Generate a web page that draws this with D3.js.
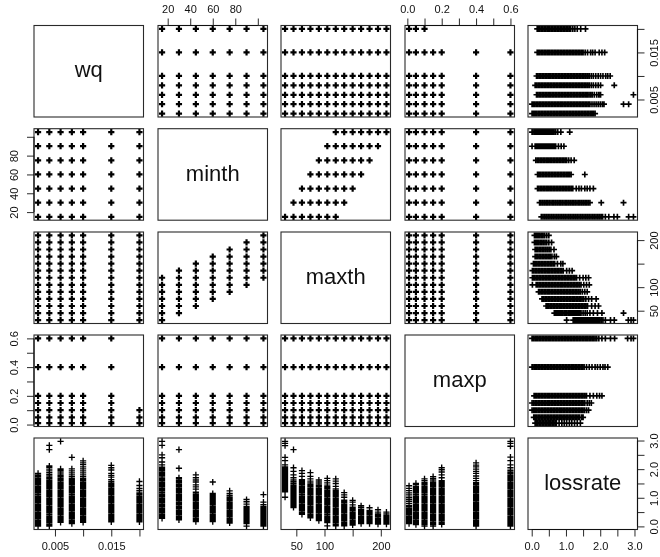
<!DOCTYPE html>
<html>
<head>
<meta charset="utf-8">
<script src="https://cdn.jsdelivr.net/npm/d3@7"></script>
<style>
html,body{margin:0;padding:0;background:#fff;overflow:hidden}
svg{display:block;filter:blur(0.35px)}
text{font-family:"Liberation Sans",Arial,sans-serif;fill:#111}
</style>
</head>
<body>
<script>
const variableNames=["wq","minth","maxth","maxp","lossrate"];
const wqValues=[.002,.004,.006,.008,.01,.015,.02];
const minthValues=[15,30,45,60,75,90,105];
const maxthValues=[30,45,60,75,90,105,120,135,150,165,180,195,210];
const maxpValues=[.01,.05,.1,.15,.2,.4,.6];
const maxpValuesAtTopWq=[.01,.05,.1];
const maxthGapSteps=[15,30,45,60,75,90,105];

const wqTicks=[.005,.01,.015,.02], wqLabels=[.005,.015];
const minthTicks=[20,40,60,80,100], minthLabels=[20,40,60,80];
const maxthTicks=[50,100,150,200], maxthLabels=[50,100,200];
const maxpTicks=[0,.1,.2,.3,.4,.5,.6], maxpLabels=[0,.2,.4,.6];
const lossTicks=[0,.5,1,1.5,2,2.5,3], lossLabels=[0,1,2,3];

const lossByWq=[
[.01,.03,.06,.1,.14,.19,.23,.28,.32,.37,.41,.46,.5,.55,.59,.64,.68,.73,.77,.82,.86,.91,.95,1,1.04,1.09,1.13,1.18,1.22,1.27,1.31,1.36,1.4,1.45,1.49,1.54,1.58,1.63,1.67,1.72,1.76,1.8,1.85],
[.01,.04,.08,.13,.17,.22,.26,.31,.35,.4,.44,.49,.53,.58,.62,.67,.71,.76,.8,.85,.89,.94,.98,1.03,1.07,1.12,1.16,1.21,1.25,1.3,1.34,1.39,1.43,1.48,1.52,1.57,1.61,1.66,1.7,1.76,1.82,1.88,1.94,2,2.06,2.11,2.68,2.83],
[.14,.18,.23,.27,.32,.36,.41,.45,.5,.54,.59,.63,.68,.72,.77,.81,.86,.9,.95,.99,1.04,1.08,1.13,1.17,1.22,1.26,1.31,1.35,1.4,1.44,1.49,1.53,1.58,1.62,1.67,1.72,1.77,1.83,1.9,1.96,2.01,2.97],
[.1,.14,.19,.23,.28,.32,.37,.41,.46,.5,.55,.59,.64,.68,.73,.77,.82,.86,.91,.95,1,1.04,1.09,1.13,1.18,1.22,1.27,1.31,1.36,1.4,1.45,1.49,1.54,1.58,1.63,1.68,1.74,1.8,1.87,1.94,2.01,2.41],
[.14,.18,.23,.27,.32,.36,.41,.45,.5,.54,.59,.63,.68,.72,.77,.81,.86,.9,.95,.99,1.04,1.08,1.13,1.17,1.22,1.26,1.31,1.35,1.4,1.44,1.49,1.53,1.58,1.63,1.68,1.74,1.8,1.87,1.94,2.01,2.08,2.16,2.22,2.29],
[.16,.2,.24,.29,.33,.38,.42,.47,.51,.56,.6,.65,.69,.74,.78,.83,.87,.92,.96,1.01,1.05,1.1,1.14,1.19,1.23,1.28,1.32,1.37,1.41,1.46,1.5,1.56,1.63,1.72,1.78,1.85,1.97,2.05,2.13],
[.16,.2,.24,.29,.33,.38,.42,.47,.51,.56,.6,.65,.69,.74,.78,.83,.87,.92,.96,1.01,1.05,1.1,1.14,1.2,1.26,1.33,1.43,1.57]
];
const lossByMinth=[
[.28,.33,.38,.43,.48,.53,.58,.63,.68,.73,.78,.83,.88,.93,.98,1.03,1.08,1.13,1.18,1.23,1.28,1.33,1.38,1.43,1.48,1.53,1.58,1.63,1.68,1.73,1.78,1.83,1.88,1.93,1.98,2.03,2.07,2.15,2.25,2.4,2.5,2.83,2.97],
[.23,.27,.32,.37,.42,.46,.51,.56,.61,.65,.7,.75,.8,.84,.89,.94,.99,1.03,1.08,1.13,1.18,1.22,1.27,1.32,1.37,1.41,1.46,1.51,1.56,1.6,1.65,1.7,2.03,2.68],
[.17,.21,.26,.3,.35,.39,.44,.48,.53,.57,.62,.66,.71,.75,.8,.84,.89,.93,.98,1.02,1.07,1.11,1.16,1.2,1.3,1.38,1.45,1.55,1.62,1.7,1.8],
[.17,.21,.25,.3,.34,.39,.43,.48,.52,.57,.61,.66,.7,.75,.79,.84,.88,.93,.97,1.02,1.06,1.1,1.15,1.55],
[.12,.17,.21,.26,.3,.35,.39,.44,.48,.53,.57,.62,.66,.71,.75,.8,.84,.89,.93,.98,1.02,1.08,1.15,1.24],
[.01,.1,.14,.18,.22,.26,.3,.34,.38,.42,.46,.5,.54,.58,.62,.66,.7,.78,.86,.94],
[.01,.04,.09,.13,.17,.21,.25,.29,.33,.37,.41,.45,.49,.53,.57,.61,.65,.7,.76,.85,1.11]
];
const lossByMaxth=[
[1.02,1.21,1.25,1.29,1.33,1.37,1.4,1.44,1.48,1.51,1.55,1.58,1.62,1.65,1.69,1.72,1.75,1.79,1.83,1.86,1.9,1.94,1.98,2.03,2.08,2.15,2.3,2.41,2.82,2.9,2.97],
[.66,.7,.74,.78,.82,.86,.9,.95,.99,1.03,1.08,1.12,1.16,1.2,1.24,1.28,1.32,1.36,1.4,1.44,1.5,1.56,1.62,1.7,1.8,1.92,2.05,2.68],
[.42,.46,.5,.55,.59,.64,.68,.73,.77,.82,.86,.91,.95,1,1.04,1.09,1.13,1.18,1.22,1.27,1.31,1.36,1.4,1.45,1.49,1.54,1.58,1.63,1.75,1.85,1.95],
[.3,.34,.39,.43,.48,.52,.57,.61,.66,.7,.75,.79,.84,.88,.93,.97,1.02,1.06,1.11,1.15,1.2,1.24,1.29,1.33,1.38,1.42,1.47,1.52,1.58,1.66,1.75,1.88],
[.2,.24,.29,.33,.38,.42,.47,.51,.56,.6,.65,.69,.74,.78,.83,.87,.92,.96,1.01,1.05,1.1,1.14,1.19,1.23,1.28,1.32,1.37,1.42,1.48,1.55,1.62],
[.02,.13,.17,.22,.26,.31,.35,.4,.44,.49,.53,.58,.62,.67,.71,.76,.8,.85,.89,.94,.98,1.03,1.07,1.12,1.16,1.21,1.25,1.3,1.34,1.39,1.44,1.52,1.6,1.68],
[.02,.05,.09,.14,.18,.23,.27,.32,.36,.41,.45,.5,.54,.59,.63,.68,.72,.77,.81,.86,.9,.95,.99,1.04,1.08,1.13,1.17,1.22,1.26,1.31,1.4,1.5,1.58,1.66],
[.02,.06,.11,.15,.2,.24,.29,.33,.38,.42,.47,.51,.56,.6,.65,.69,.74,.78,.83,.87,.92,1.02,1.1,1.18],
[.05,.09,.13,.18,.22,.27,.31,.36,.4,.45,.49,.54,.58,.63,.67,.75,.85,.91],
[.1,.14,.18,.23,.27,.32,.36,.41,.45,.5,.54,.59,.66,.72],
[.1,.14,.18,.23,.27,.32,.36,.41,.46,.51,.56,.65],
[.08,.12,.16,.2,.25,.29,.34,.39,.44,.5,.58],
[.08,.12,.16,.2,.24,.29,.33,.38,.44,.5]
];
const lossByMaxp=[
[.1,.14,.18,.23,.27,.32,.36,.41,.45,.5,.54,.59,.63,.68,.72,.8,.88,.95,1.02,1.1,1.17,1.25,1.33,1.42],
[.06,.1,.14,.19,.23,.28,.32,.37,.41,.46,.5,.55,.59,.64,.68,.73,.77,.82,.86,.91,.95,1,1.04,1.09,1.13,1.18,1.22,1.27,1.31,1.36,1.4,1.46,1.5],
[.01,.06,.1,.14,.19,.23,.28,.32,.37,.41,.46,.5,.55,.59,.64,.68,.73,.77,.82,.86,.91,.95,1,1.04,1.09,1.13,1.18,1.22,1.27,1.31,1.36,1.4,1.45,1.49,1.54,1.6,1.66],
[.01,.06,.11,.15,.2,.24,.29,.33,.38,.42,.47,.51,.56,.6,.65,.69,.74,.78,.83,.87,.92,.96,1.01,1.05,1.1,1.14,1.19,1.23,1.28,1.32,1.37,1.41,1.46,1.5,1.55,1.62,1.68,1.74],
[.07,.11,.15,.2,.24,.29,.33,.38,.42,.47,.51,.56,.6,.65,.69,.74,.78,.83,.87,.92,.96,1.01,1.05,1.1,1.14,1.19,1.23,1.28,1.32,1.37,1.41,1.46,1.5,1.55,1.6,1.7,1.8,1.9,1.98,2.05],
[.01,.04,.09,.13,.18,.22,.27,.31,.36,.4,.45,.49,.54,.58,.63,.67,.72,.76,.81,.85,.9,.94,.99,1.03,1.08,1.12,1.17,1.21,1.26,1.3,1.35,1.39,1.44,1.48,1.53,1.6,1.68,1.76,1.85,1.92,2,2.08,2.14,2.22],
[.01,.05,.1,.14,.18,.23,.27,.32,.36,.41,.45,.5,.54,.59,.63,.68,.72,.77,.81,.86,.9,.95,.99,1.04,1.08,1.13,1.17,1.22,1.26,1.31,1.35,1.4,1.44,1.49,1.53,1.58,1.62,1.67,1.71,1.76,1.8,1.85,1.9,1.96,2.05,2.15,2.3,2.42,2.8,2.9,2.97]
];

const W=660,H=557;
const colLeft=[34,158,281,405,528], rowTop=[25.5,128.7,232,335,438];
const panelW=109.5, panelH=91.5;

const svg=d3.select("body").append("svg").attr("width",W).attr("height",H);
svg.append("rect").attr("width",W).attr("height",H).attr("fill","#fff");

function padded(values){
  const [a,b]=d3.extent(values), p=(b-a)*.04;
  return [a-p,b+p];
}
const lossAll=[lossByWq,lossByMinth,lossByMaxth,lossByMaxp].flat(2);
const domains=[padded(wqValues),padded(minthValues),padded(maxthValues),padded(maxpValues),padded(lossAll)];
const xScale=domains.map((d,i)=>d3.scaleLinear().domain(d).range([colLeft[i],colLeft[i]+panelW]));
const yScale=domains.map((d,i)=>d3.scaleLinear().domain(d).range([rowTop[i]+panelH,rowTop[i]]));

const factorValues=[wqValues,minthValues,maxthValues,maxpValues];
const lossByFactor=[lossByWq,lossByMinth,lossByMaxth,lossByMaxp];

function designPairs(a,b){
  const pairs=d3.cross(factorValues[a],factorValues[b]);
  return pairs.filter(p=>{
    const o={}; o[a]=p[0]; o[b]=p[1];
    if(o[0]!==undefined&&o[3]!==undefined&&o[0]===.02) return maxpValuesAtTopWq.includes(o[3]);
    if(o[1]!==undefined&&o[2]!==undefined) return maxthGapSteps.includes(o[2]-o[1]);
    return true;
  });
}
function lossPairs(f){
  return lossByFactor[f].flatMap((vals,i)=>vals.map(v=>[factorValues[f][i],v]));
}
function plus(g,pts,x,y,r,sw,color){
  const path=d3.path();
  pts.forEach(([px,py])=>{
    const cx=x(px),cy=y(py);
    path.moveTo(cx-r,cy);path.lineTo(cx+r,cy);
    path.moveTo(cx,cy-r);path.lineTo(cx,cy+r);
  });
  g.append("path").attr("d",path.toString()).attr("fill","none").attr("stroke",color).attr("stroke-width",sw);
}

svg.append("defs").selectAll("clipPath").data(d3.cross(d3.range(5),d3.range(5))).join("clipPath")
  .attr("id",d=>`c${d[0]}${d[1]}`).append("rect")
  .attr("x",d=>colLeft[d[1]]-1).attr("y",d=>rowTop[d[0]]-1)
  .attr("width",panelW+2).attr("height",panelH+2);

for(let r=0;r<5;r++){
  for(let c=0;c<5;c++){
    const g=svg.append("g");
    const mark=g.append("g").attr("clip-path",`url(#c${r}${c})`);
    if(r===c){
      g.append("text").attr("x",colLeft[c]+panelW/2).attr("y",rowTop[r]+panelH/2)
       .attr("dy","0.28em").attr("text-anchor","middle").attr("font-size",22).attr("fill","#111").text(variableNames[r]);
    }else if(r<4&&c<4){
      plus(mark,designPairs(c,r),xScale[c],yScale[r],3.1,2.2,"#000");
    }else if(r===4){
      plus(mark,lossPairs(c),xScale[c],yScale[4],3.1,1.35,"#000");
    }else{
      plus(mark,lossPairs(r).map(p=>[p[1],p[0]]),xScale[4],yScale[r],3.0,1.65,"#000");
    }
    g.append("rect").attr("x",colLeft[c]).attr("y",rowTop[r]).attr("width",panelW).attr("height",panelH)
     .attr("fill","none").attr("stroke","#2a2a2a").attr("stroke-width",1.1);
  }
}

const axisSpec=[
 {side:"bottom",i:0,ticks:wqTicks,labels:wqLabels,fmt:d3.format(".3f")},
 {side:"bottom",i:2,ticks:maxthTicks,labels:maxthLabels,fmt:d3.format("d")},
 {side:"bottom",i:4,ticks:lossTicks,labels:lossLabels,fmt:d3.format(".1f")},
 {side:"top",i:1,ticks:minthTicks,labels:minthLabels,fmt:d3.format("d")},
 {side:"top",i:3,ticks:maxpTicks,labels:maxpLabels,fmt:d3.format(".1f")},
 {side:"left",i:1,ticks:minthTicks,labels:minthLabels,fmt:d3.format("d")},
 {side:"left",i:3,ticks:maxpTicks,labels:maxpLabels,fmt:d3.format(".1f")},
 {side:"right",i:0,ticks:wqTicks,labels:wqLabels,fmt:d3.format(".3f")},
 {side:"right",i:2,ticks:maxthTicks,labels:maxthLabels,fmt:d3.format("d")},
 {side:"right",i:4,ticks:lossTicks,labels:lossLabels,fmt:d3.format(".1f")}
];
axisSpec.forEach(a=>{
  const horizontal=a.side==="bottom"||a.side==="top";
  const scale=horizontal?xScale[a.i]:yScale[a.i];
  const gen={bottom:d3.axisBottom,top:d3.axisTop,left:d3.axisLeft,right:d3.axisRight}[a.side](scale)
    .tickValues(a.ticks).tickSize(7)
    .tickFormat(v=>a.labels.includes(v)?a.fmt(v):"");
  const tx={bottom:0,top:0,left:colLeft[0],right:colLeft[4]+panelW}[a.side];
  const ty={bottom:rowTop[4]+panelH,top:rowTop[0],left:0,right:0}[a.side];
  const g=svg.append("g").attr("transform",`translate(${tx},${ty})`).call(gen);
  g.select(".domain").remove();
  g.selectAll(".tick line").attr("stroke","#2a2a2a");
  const ends=d3.extent(a.ticks).map(scale);
  const ln=g.append("line").attr("stroke","#111").attr("stroke-width",1.1);
  if(horizontal) ln.attr("x1",ends[0]).attr("x2",ends[1]);
  else ln.attr("y1",ends[0]).attr("y2",ends[1]);
  const t=g.selectAll(".tick text").attr("font-family",null).attr("font-size",11).attr("fill","#222");
  if(a.side==="bottom") t.attr("dy",0).attr("y",20.7);
  if(a.side==="top") t.attr("y",-12.5).attr("dy",0);
  if(a.side==="left") t.attr("transform","rotate(-90)").attr("x",0).attr("y",-16).attr("dy",0).attr("text-anchor","middle");
  if(a.side==="right") t.attr("transform","rotate(-90)").attr("x",0).attr("y",20).attr("dy",0).attr("text-anchor","middle");
});
</script>
</body>
</html>
